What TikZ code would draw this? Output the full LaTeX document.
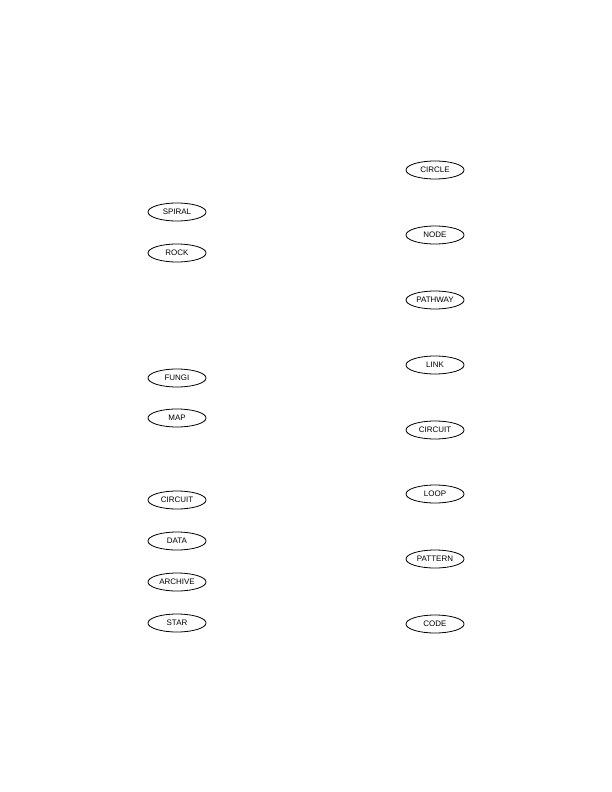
\documentclass[tikz,border=0pt]{standalone}
\usepackage{fontspec}
\setmainfont{Liberation Sans}
\usetikzlibrary{shapes.geometric}

\begin{document}
\begin{tikzpicture}[x=1bp, y=-1bp, line join=round,
  tag/.style={draw, thick, ellipse, minimum width=58bp, minimum height=18bp, inner sep=0pt, font=\fontsize{8}{9}\selectfont}]
\useasboundingbox (0,0) rectangle (612,792);
% left column
\node[tag] (spiral)  at (177,212) {SPIRAL};
\node[tag] (rock)    at (177,253) {ROCK};
\node[tag] (fungi)   at (177,378) {FUNGI};
\node[tag] (map)     at (177,418) {MAP};
\node[tag] (circuitl) at (177,500) {CIRCUIT};
\node[tag] (data)    at (177,541) {DATA};
\node[tag] (archive) at (177,582) {ARCHIVE};
\node[tag] (star)    at (177,623) {STAR};
% right column
\node[tag] (circle)  at (435,170) {CIRCLE};
\node[tag] (node)    at (435,235) {NODE};
\node[tag] (pathway) at (435,300) {PATHWAY};
\node[tag] (link)    at (435,365) {LINK};
\node[tag] (circuitr) at (435,430) {CIRCUIT};
\node[tag] (loop)    at (435,494) {LOOP};
\node[tag] (pattern) at (435,559) {PATTERN};
\node[tag] (code)    at (435,624) {CODE};
\end{tikzpicture}
\end{document}
